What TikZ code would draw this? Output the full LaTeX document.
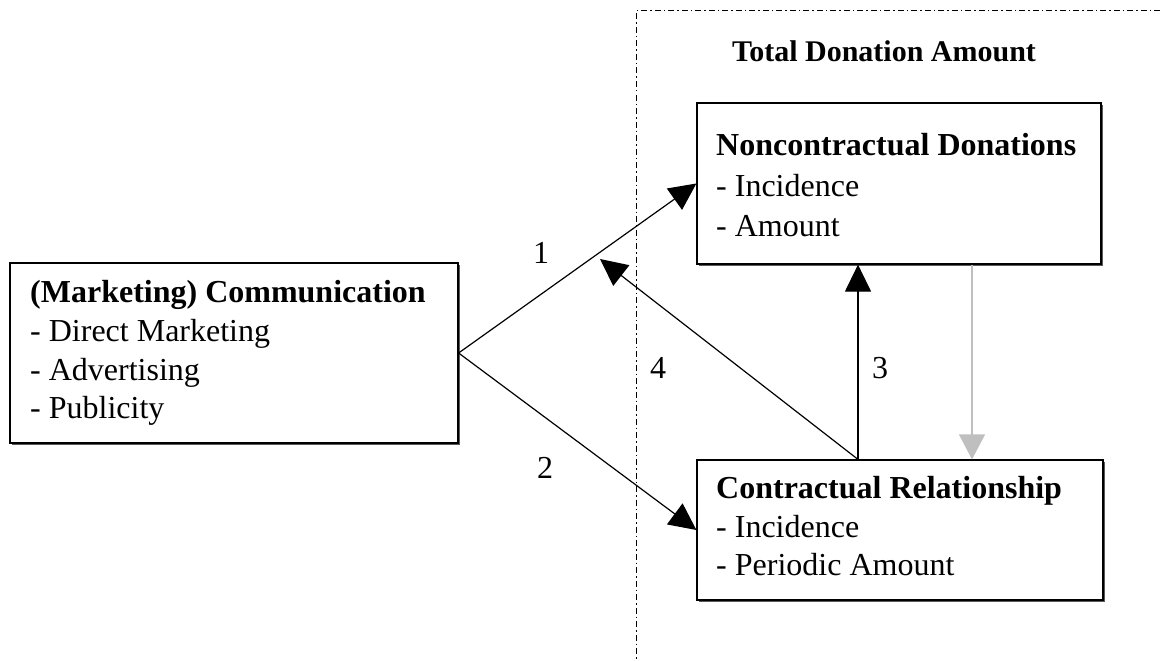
\documentclass[tikz,border=0pt]{standalone}
\usepackage{fontspec}
\setmainfont{Liberation Serif}
\usetikzlibrary{arrows.meta,shadows}
\begin{document}
\begin{tikzpicture}[x=1pt,y=-1pt,
  every node/.style={font=\fontsize{32}{39}\selectfont},
  box/.style={draw, line width=1.2pt, fill=white, inner sep=0pt,
    drop shadow={shadow xshift=1.6pt, shadow yshift=-1.6pt, fill=black!65, opacity=1}},
  txt/.style={anchor=base west, inner sep=0pt},
  arr/.style={line width=1.2pt, -{Triangle[length=27pt,width=26pt]}},
  garr/.style={line width=1.2pt, draw=black!25, -{Triangle[length=25pt,width=26pt]}},
  region/.style={line width=1pt, dash pattern=on 6pt off 3pt on 1.5pt off 3pt}]
\useasboundingbox (0,0) rectangle (1160,661);
\draw[region] (1160,11) -- (636,11) -- (636,661);
\node[anchor=base, inner sep=0pt, font=\fontsize{30}{36}\selectfont\bfseries] (title) at (884,62) {Total Donation Amount};
% boxes
\node[box, minimum width=448pt, minimum height=180pt] (mc) at (234,353) {};
\node[box, minimum width=404pt, minimum height=161pt] (nc) at (899,183.5) {};
\node[box, minimum width=406pt, minimum height=140pt] (cr) at (900,530) {};
% texts
\node[txt, font=\fontsize{32}{39}\selectfont\bfseries] (mc1) at (30,302) {(Marketing) Communication};
\node[txt] (mc2) at (30,341) {- Direct Marketing};
\node[txt] (mc3) at (30,380) {- Advertising};
\node[txt] (mc4) at (30,418) {- Publicity};
\node[txt, font=\fontsize{32}{39}\selectfont\bfseries] (nc1) at (716,155) {Noncontractual Donations};
\node[txt] (nc2) at (716,196) {- Incidence};
\node[txt] (nc3) at (716,236) {- Amount};
\node[txt, font=\fontsize{32}{39}\selectfont\bfseries] (cr1) at (716,498) {Contractual Relationship};
\node[txt] (cr2) at (716,537) {- Incidence};
\node[txt] (cr3) at (716,575) {- Periodic Amount};
% connectors
\coordinate (x3) at (858,0);
\coordinate (xg) at (972,0);
\coordinate (t4) at (600,259);
\draw[arr] (mc.east) -- (nc.west);
\draw[arr] (mc.east) -- (cr.west);
\draw[arr] (cr.north -| x3) -- (nc.south -| x3);
\draw[arr] (cr.north -| x3) -- (t4);
\draw[garr] (nc.south -| xg) -- (cr.north -| xg);
\node (l1) at (541,253) {1};
\node (l2) at (545,468) {2};
\node (l3) at (880,368) {3};
\node (l4) at (658,368) {4};
\end{tikzpicture}
\end{document}
